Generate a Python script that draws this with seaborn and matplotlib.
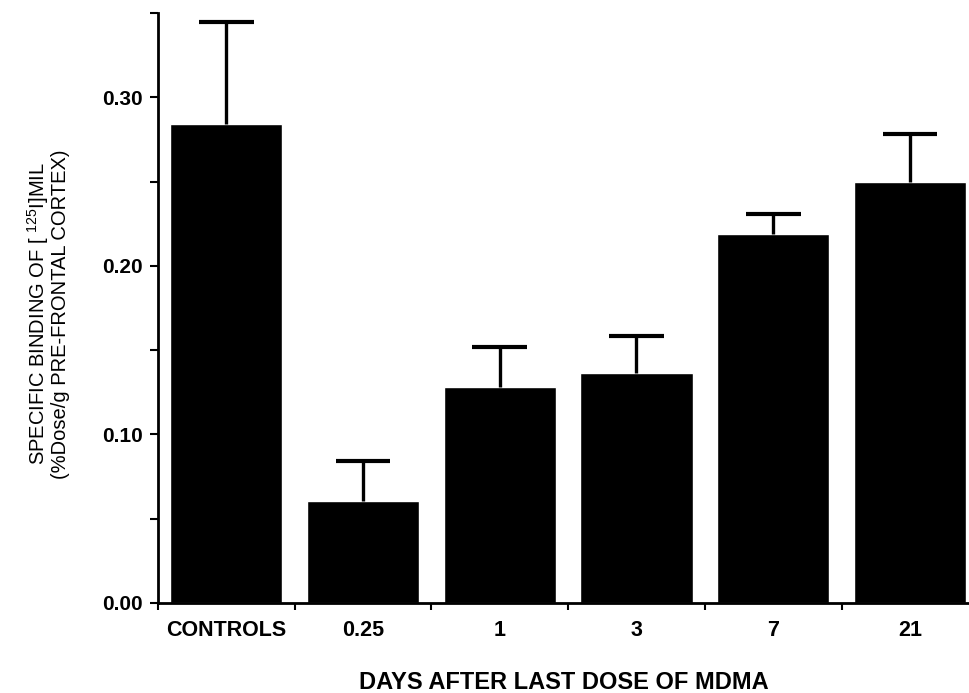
import matplotlib
matplotlib.use("Agg")
import numpy as np
import pandas as pd
import matplotlib.pyplot as plt
from matplotlib.ticker import FormatStrFormatter, MultipleLocator, FixedLocator
import seaborn as sns

# values
groups = ["CONTROLS", "0.25", "1", "3", "7", "21"]
binding = [0.284, 0.0605, 0.128, 0.1365, 0.219, 0.250]
sem = [0.061, 0.024, 0.024, 0.022, 0.012, 0.028]

df = pd.DataFrame({"group": groups, "binding": binding, "sem": sem})
df["upper"] = df["binding"] + df["sem"]

sns.set_style("ticks", {"axes.edgecolor": "black", "xtick.color": "black",
                        "ytick.color": "black", "text.color": "black",
                        "axes.labelcolor": "black"})
plt.rcParams["font.family"] = ["Liberation Sans", "DejaVu Sans"]
plt.rcParams["mathtext.fontset"] = "custom"
plt.rcParams["mathtext.rm"] = "Liberation Sans"

fig = plt.figure(figsize=(9.7, 6.93), dpi=100)
ax = fig.add_axes([0.163, 0.13, 0.837, 0.851])

sns.barplot(data=df, x="group", y="binding", order=groups, color="black",
            saturation=1, width=0.82, errorbar=None, ax=ax)

# upper error bars only (stem + cap)
xpos = np.arange(len(groups))
ax.vlines(xpos, df["binding"], df["upper"], color="black", lw=2.4)
ax.hlines(df["upper"], xpos - 0.2, xpos + 0.2, color="black", lw=3)

ax.set_xlim(-0.5, 5.44)
ax.set_ylim(0, 0.35)
ax.yaxis.set_major_locator(MultipleLocator(0.10))
ax.yaxis.set_minor_locator(MultipleLocator(0.05))
ax.yaxis.set_major_formatter(FormatStrFormatter("%.2f"))

# labels at the bar centres, tick marks between the bars
ax.xaxis.set_minor_locator(FixedLocator(np.arange(-0.5, 5.5, 1.0)))
ax.tick_params(axis="x", which="major", length=0, pad=12)
ax.tick_params(axis="x", which="minor", length=5, width=1.5, direction="out")
ax.tick_params(axis="y", which="both", length=6, width=1.5, direction="out", pad=5)
for lab in ax.get_xticklabels():
    lab.set_fontsize(15.5)
    lab.set_fontweight("bold")
for lab in ax.get_yticklabels():
    lab.set_fontsize(15)
    lab.set_fontweight("bold")

sns.despine(ax=ax)
for s in ["left", "bottom"]:
    ax.spines[s].set_linewidth(2)

ax.set_xlabel("DAYS AFTER LAST DOSE OF MDMA", fontsize=17, fontweight="bold",
              labelpad=22)
ax.set_ylabel("SPECIFIC BINDING OF [ $^{\\mathrm{125}}$I]MIL\n(%Dose/g PRE-FRONTAL CORTEX)",
              fontsize=14.5, linespacing=1.0)
ax.yaxis.set_label_coords(-0.108, 0.49)

fig.savefig("out.png", dpi=100)
plt.close(fig)
